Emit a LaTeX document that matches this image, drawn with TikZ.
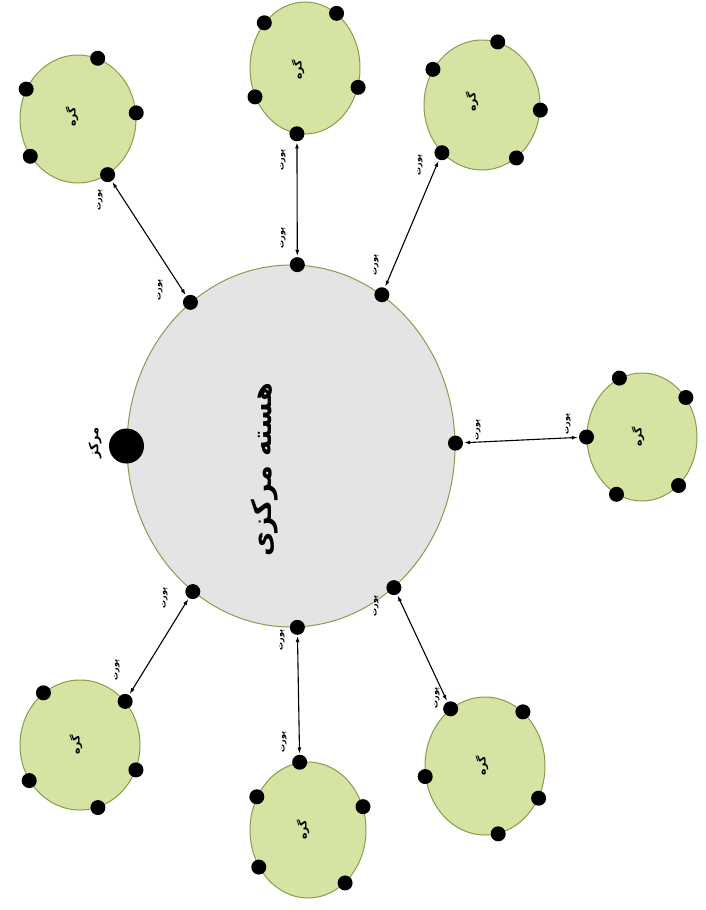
\documentclass[tikz,border=0pt]{standalone}
\usepackage{fontspec}
\newfontfamily\arabicfont[Script=Arabic]{DejaVu Sans}
\TeXXeTstate=1
\usetikzlibrary{arrows.meta,shapes.geometric}
\definecolor{corefill}{HTML}{E4E4E4}
\definecolor{nodefill}{HTML}{D5E3A3}
\definecolor{edgeol}{HTML}{8C9A4E}
\tikzset{
  core/.style={ellipse, draw=edgeol, line width=1pt, fill=corefill, inner sep=0pt},
  sub/.style={ellipse, draw=edgeol, line width=1pt, fill=nodefill, inner sep=0pt},
  dot/.style={circle, fill=black, inner sep=0pt, minimum size=15pt},
  bigdot/.style={circle, fill=black, inner sep=0pt, minimum size=35pt},
  link/.style={{Latex[length=6pt,width=4pt]}-{Latex[length=6pt,width=4pt]}, line width=1.1pt, shorten <=1pt, shorten >=1pt},
  lbl/.style={font=\arabicfont\bfseries\fontsize{8}{9}\selectfont, rotate=90, inner sep=0pt},
  gtxt/.style={font=\arabicfont\bfseries\fontsize{11}{12}\selectfont, rotate=90, inner sep=0pt},
}
\begin{document}
\begin{tikzpicture}[x=1pt,y=-1pt]
\useasboundingbox (0,0) rectangle (706,910);
\fill[white] (0,0) rectangle (706,910);
% central core
\node[core, minimum width=328pt, minimum height=362pt] (core) at (291,446) {};
\node[font=\arabicfont\bfseries\fontsize{27}{29}\selectfont, rotate=90, inner sep=0pt] (coretext) at (265,470) {\beginR هسته مرکزی\endR};
\node[bigdot] (center) at (core.180) {};
\node[font=\arabicfont\bfseries\fontsize{13}{14}\selectfont, rotate=90, inner sep=0pt] (centerlbl) at (95,443) {\beginR مرکز\endR};
% dots on core
\node[dot] (c1) at (core.125) {};
\node[dot] (c2) at (core.88) {};
\node[dot] (c3) at (core.59) {};
\node[dot] (c4) at (core.1) {};
\node[dot] (c5) at (core.-54) {};
\node[dot] (c6) at (core.-88) {};
\node[dot] (c7) at (core.-124) {};
% subnet ellipses
\node[sub, minimum width=116pt, minimum height=128pt] (s1) at (78,119) {};
\node[sub, minimum width=110pt, minimum height=132pt] (s2) at (305,68) {};
\node[sub, minimum width=116pt, minimum height=130pt] (s3) at (482,105) {};
\node[sub, minimum width=110pt, minimum height=128pt] (s4) at (642,437) {};
\node[sub, minimum width=120pt, minimum height=138pt] (s5) at (485,766) {};
\node[sub, minimum width=116pt, minimum height=136pt] (s6) at (308,830) {};
\node[sub, minimum width=120pt, minimum height=130pt] (s7) at (80,745) {};
% subnet texts
\node[gtxt] (t1) at (72,117) {\beginR گره\endR};
\node[gtxt] (t2) at (298,70) {\beginR گره\endR};
\node[gtxt] (t3) at (472,102) {\beginR گره\endR};
\node[gtxt] (t4) at (638,437) {\beginR گره\endR};
\node[gtxt] (t5) at (482,766) {\beginR گره\endR};
\node[gtxt] (t6) at (303,830) {\beginR گره\endR};
\node[gtxt] (t7) at (76,745) {\beginR گره\endR};
% subnet connector dots
\node[dot] (g1) at (s1.-62) {};
\node[dot] (g2) at (s2.-97) {};
\node[dot] (g3) at (s3.230) {};
\node[dot] (g4) at (s4.180) {};
\node[dot] (g5) at (s5.121) {};
\node[dot] (g6) at (s6.97) {};
\node[dot] (g7) at (s7.44) {};
% other subnet dots
\node[dot] (g1a) at (s1.72) {};
\node[dot] (g1b) at (s1.150) {};
\node[dot] (g1c) at (s1.6) {};
\node[dot] (g1d) at (s1.218) {};
\node[dot] (g2a) at (s2.132) {};
\node[dot] (g2b) at (s2.60) {};
\node[dot] (g2c) at (s2.-20) {};
\node[dot] (g2d) at (s2.210) {};
\node[dot] (g3a) at (s3.144) {};
\node[dot] (g3b) at (s3.76) {};
\node[dot] (g3c) at (s3.-5) {};
\node[dot] (g3d) at (s3.-57) {};
\node[dot] (g4a) at (s4.111) {};
\node[dot] (g4b) at (s4.42) {};
\node[dot] (g4c) at (s4.-53) {};
\node[dot] (g4d) at (s4.246) {};
\node[dot] (g5a) at (s5.55) {};
\node[dot] (g5b) at (s5.-31) {};
\node[dot] (g5c) at (s5.-79) {};
\node[dot] (g5d) at (s5.190) {};
\node[dot] (g6a) at (s6.147) {};
\node[dot] (g6b) at (s6.217) {};
\node[dot] (g6c) at (s6.-55) {};
\node[dot] (g6d) at (s6.23) {};
\node[dot] (g7a) at (s7.125) {};
\node[dot] (g7b) at (s7.-24) {};
\node[dot] (g7c) at (s7.-74) {};
\node[dot] (g7d) at (s7.215) {};
% links
\draw[link] (c1) -- (g1);
\draw[link] (c2) -- (g2);
\draw[link] (c3) -- (g3);
\draw[link] (c4) -- (g4);
\draw[link] (c5) -- (g5);
\draw[link] (c6) -- (g6);
\draw[link] (c7) -- (g7);
% link labels
\node[lbl] (l1a) at (160,290) {\beginR پورت\endR};
\node[lbl] (l1b) at (100,200) {\beginR پورت\endR};
\node[lbl] (l2a) at (283,238) {\beginR پورت\endR};
\node[lbl] (l2b) at (283,160) {\beginR پورت\endR};
\node[lbl] (l3a) at (376,265) {\beginR پورت\endR};
\node[lbl] (l3b) at (420,165) {\beginR پورت\endR};
\node[lbl] (l4a) at (478,430) {\beginR پورت\endR};
\node[lbl] (l4b) at (568,424) {\beginR پورت\endR};
\node[lbl] (l5a) at (376,606) {\beginR پورت\endR};
\node[lbl] (l5b) at (437,698) {\beginR پورت\endR};
\node[lbl] (l6a) at (282,640) {\beginR پورت\endR};
\node[lbl] (l6b) at (284,742) {\beginR پورت\endR};
\node[lbl] (l7a) at (165,598) {\beginR پورت\endR};
\node[lbl] (l7b) at (117,670) {\beginR پورت\endR};
\end{tikzpicture}
\end{document}
